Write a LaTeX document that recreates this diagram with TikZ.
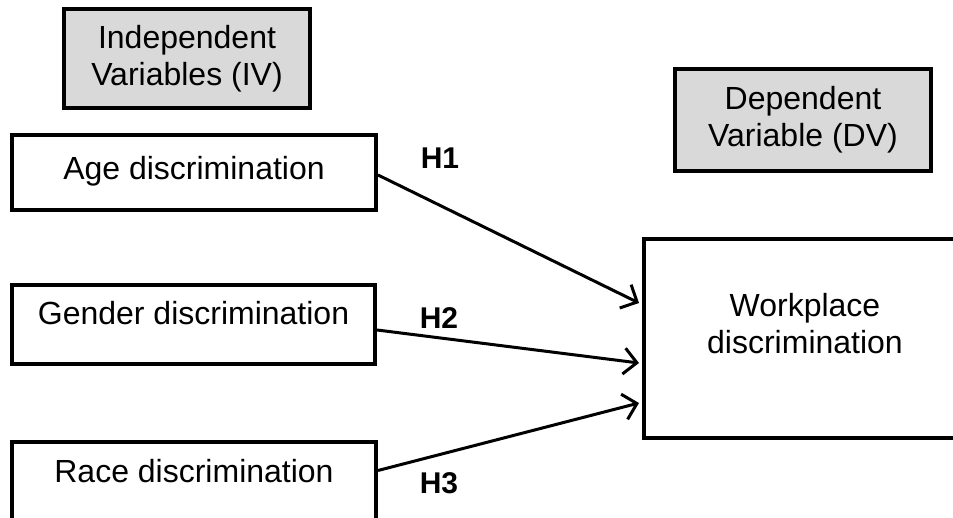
\documentclass[tikz,border=0pt]{standalone}
\usepackage{fontspec}
\setmainfont{Liberation Sans}
\usetikzlibrary{arrows.meta}
\definecolor{boxgray}{HTML}{D9D9D9}
\begin{document}
\begin{tikzpicture}[x=1pt,y=-1pt,
  box/.style={draw=black, line width=4pt, inner sep=0pt, font=\fontsize{32}{37}\selectfont},
  graybox/.style={box, fill=boxgray, align=center},
  hlabel/.style={font=\fontsize{30}{36}\selectfont\bfseries, inner sep=0pt},
  conn/.style={line width=3pt, -{Straight Barb[length=13pt,width=26pt,line width=3pt]}}]
\clip (0,0) rectangle (953,518);
\useasboundingbox (0,0) rectangle (953,518);
\fill[white] (0,0) rectangle (953,518);

\node[graybox, minimum width=246pt, minimum height=99pt] (iv) at (187,58.5) {Independent\\Variables (IV)};
\node[graybox, minimum width=256pt, minimum height=102pt] (dv) at (803,120) {Dependent\\Variable (DV)};

\node[box, anchor=base, minimum width=364pt, text height=45pt, text depth=30pt] (age) at (194,180) {Age discrimination};
\node[box, anchor=base, minimum width=363pt, text height=40pt, text depth=39pt] (gender) at (193.5,325) {Gender discrimination};
\node[box, anchor=base, minimum width=364pt, text height=40pt, text depth=42pt] (race) at (194,482) {Race discrimination};

\node[box, minimum width=322pt, minimum height=199pt,
  label={[font=\fontsize{32}{37}\selectfont, align=center, yshift=15pt]center:Workplace\\discrimination}] (wp) at (805,338.5) {};

\draw[conn] ([yshift=-2.5pt]age.east) -- ([yshift=35.5pt,xshift=-3pt]wp.west);
\draw[conn] ([yshift=-5.5pt]gender.east) -- ([yshift=-24.5pt,xshift=-3pt]wp.west);
\draw[conn] ([yshift=12.5pt]race.east) -- ([yshift=-64.5pt,xshift=-3pt]wp.west);

\node[hlabel] (h1) at (440,158) {H1};
\node[hlabel] (h2) at (439,318) {H2};
\node[hlabel] (h3) at (439,483) {H3};
\end{tikzpicture}
\end{document}
